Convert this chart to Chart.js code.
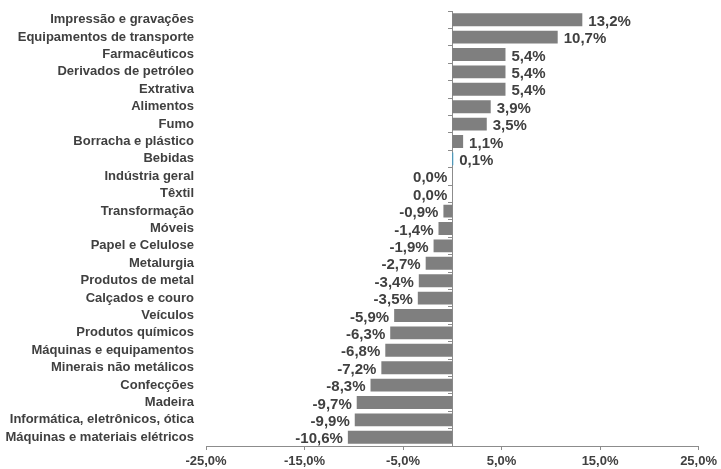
<!DOCTYPE html>
<html lang="pt-BR">
<head>
<meta charset="utf-8">
<title>Variação por setor</title>
<script src="https://cdn.jsdelivr.net/npm/chart.js@4.4.1/dist/chart.umd.min.js"></script>
<style>
  html, body { margin: 0; padding: 0; background: #fff; }
  #wrap { position: relative; width: 721px; height: 469px; }
</style>
</head>
<body>
<div id="wrap"><canvas id="setores"></canvas></div>
<script>
// Setores e variação (%)
const setores = [
  'Impressão e gravações',
  'Equipamentos de transporte',
  'Farmacêuticos',
  'Derivados de petróleo',
  'Extrativa',
  'Alimentos',
  'Fumo',
  'Borracha e plástico',
  'Bebidas',
  'Indústria geral',
  'Têxtil',
  'Transformação',
  'Móveis',
  'Papel e Celulose',
  'Metalurgia',
  'Produtos de metal',
  'Calçados e couro',
  'Veículos',
  'Produtos químicos',
  'Máquinas e equipamentos',
  'Minerais não metálicos',
  'Confecções',
  'Madeira',
  'Informática, eletrônicos, ótica',
  'Máquinas e materiais elétricos'
];
const variacao = [
  13.2, 10.7, 5.4, 5.4, 5.4, 3.9, 3.5, 1.1, 0.1, 0.0, 0.0, -0.9, -1.4,
  -1.9, -2.7, -3.4, -3.5, -5.9, -6.3, -6.8, -7.2, -8.3, -9.7, -9.9, -10.6
];
const eixoX = { min: -25, max: 25, passo: 10 };
const destaque = 'Bebidas';

const FONT = "'Liberation Sans', Arial, sans-serif";
const TEXTO = '#404040';
const CINZA_EIXO = '#8c8c8c';

const fmt = v => v.toFixed(1).replace('.', ',') + '%';

// rótulos de valor ao lado de cada barra
const rotulosValor = {
  id: 'rotulosValor',
  afterDatasetsDraw(chart) {
    const ctx = chart.ctx;
    const meta = chart.getDatasetMeta(0);
    ctx.save();
    ctx.font = 'bold 15px ' + FONT;
    ctx.fillStyle = TEXTO;
    ctx.textBaseline = 'middle';
    meta.data.forEach((bar, i) => {
      const v = variacao[i];
      if (v > 0) {
        ctx.textAlign = 'left';
        ctx.fillText(fmt(v), bar.x + 6, bar.y + 2);
      } else {
        ctx.textAlign = 'right';
        ctx.fillText(fmt(v), bar.x - 5, bar.y + 2);
      }
    });
    ctx.restore();
  }
};

new Chart(document.getElementById('setores'), {
  type: 'bar',
  data: {
    labels: setores,
    datasets: [{
      data: variacao,
      yAxisID: 'y',
      backgroundColor: setores.map(s => s === destaque ? '#3c9dc8' : '#7f7f7f'),
      barPercentage: 0.74,
      categoryPercentage: 1
    }]
  },
  options: {
    indexAxis: 'y',
    responsive: true,
    maintainAspectRatio: false,
    animation: false,
    layout: { padding: { top: 11, right: 21, bottom: 0, left: 0 } },
    scales: {
      y: {
        type: 'category',
        offset: true,
        grid: { display: false, drawTicks: false },
        border: { display: false },
        ticks: {
          autoSkip: false,
          padding: 12,
          color: TEXTO,
          font: { family: FONT, size: 13, weight: 'bold' }
        },
        afterFit(scale) {
          scale.width = 206;
          // os rótulos ficam no centro das faixas, sem folga extra
          scale.paddingTop = 0;
          scale.paddingBottom = 0;
        }
      },
      // eixo vertical no zero, com marcas entre as categorias
      yZero: {
        axis: 'y',
        type: 'category',
        labels: setores,
        position: { x: 0 },
        offset: true,
        grid: {
          display: true,
          drawOnChartArea: false,
          offset: true,
          tickLength: 4,
          color: CINZA_EIXO
        },
        border: { display: true, color: CINZA_EIXO, width: 1 },
        ticks: { display: false, autoSkip: false }
      },
      x: {
        min: eixoX.min,
        max: eixoX.max,
        grid: {
          drawOnChartArea: false,
          tickLength: 4,
          color: CINZA_EIXO
        },
        border: { display: true, color: CINZA_EIXO, width: 1 },
        ticks: {
          stepSize: eixoX.passo,
          padding: 4,
          color: TEXTO,
          font: { family: FONT, size: 13, weight: 'bold' },
          callback: v => fmt(v)
        },
        afterFit(scale) { scale.height = 23; }
      }
    },
    plugins: {
      legend: { display: false },
      tooltip: { enabled: false }
    }
  },
  plugins: [rotulosValor]
});
</script>
</body>
</html>
